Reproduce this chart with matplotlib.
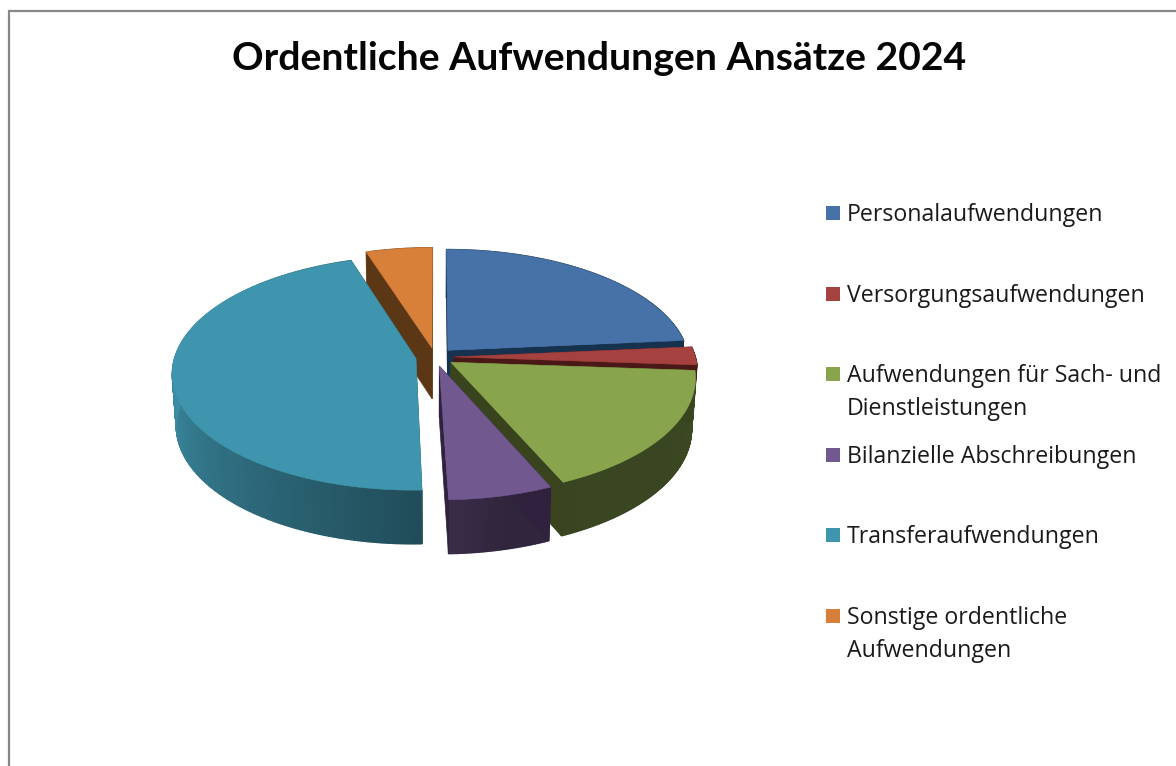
import numpy as np
import matplotlib
matplotlib.use("Agg")
import matplotlib.pyplot as plt
from matplotlib.patches import Rectangle

# ---- data ----
title = "Ordentliche Aufwendungen Ansätze 2024"
labels = ["Personalaufwendungen", "Versorgungsaufwendungen",
          "Aufwendungen für Sach- und\nDienstleistungen",
          "Bilanzielle Abschreibungen", "Transferaufwendungen",
          "Sonstige ordentliche\nAufwendungen"]
shares = [23.6, 2.5, 17.3, 6.1, 45.5, 5.0]
colors = ["#4672A8", "#A54240", "#88A44D", "#71588F", "#4095AE", "#D8803A"]
cut_colors = ["#16324F", "#4A1816", "#39431E", "#30213E", "#225261", "#5C3716"]
rim_angles = [0, 90, 120, 166, 180, 270, 300, 360]
rim_shades = [.6, .46, .43, .42, .52, .95, .95, .6]
draw_order = [0, 5, 1, 2, 4, 3]
legend_rows = [213, 294, 374, 455, 535, 616]

# ---- layout ----
W, H = 1176, 766
CX, CY = 435, 357
A, B, K = 241, 114.8, 0.124
EXPLODE = 0.08
DEPTH, KD = 51.0, 0.05
BOTTOM_X = 0.985


def proj(u, v, bottom=False):
    """Ground-plane coordinates of the pie to pixel coordinates."""
    u, v = np.asarray(u, float), np.asarray(v, float)
    s = 1 + K * v
    x = CX + A * u / s
    y = CY - B * v / s
    if bottom:
        x = CX + (x - CX) * BOTTOM_X
        y = y + DEPTH / (1 + KD * v)
    return x, y


fig = plt.figure(figsize=(W / 100, H / 100), dpi=100)
ax = fig.add_axes([0, 0, 1, 1])
ax.set_xlim(0, W)
ax.set_ylim(H, 0)
ax.axis("off")

edges = np.concatenate([[0], np.cumsum(shares)]) / np.sum(shares) * 360


def shade(hex_color, f):
    return tuple(np.clip(np.array(matplotlib.colors.to_rgb(hex_color)) * f, 0, 1))


for i in draw_order:
    t0, t1 = edges[i], edges[i + 1]
    mid = np.radians((t0 + t1) / 2)
    ou, ov = EXPLODE * np.sin(mid), EXPLODE * np.cos(mid)
    th = np.radians(np.linspace(t0, t1, max(int(t1 - t0) * 2, 6)))
    ru, rv = ou + np.sin(th), ov + np.cos(th)

    # outer wall with its horizontal gradient
    tx, ty = proj(ru, rv)
    bx, by = proj(ru, rv, bottom=True)
    for j in range(len(th) - 1):
        f = np.interp(np.degrees((th[j] + th[j + 1]) / 2), rim_angles, rim_shades)
        ax.fill([tx[j], tx[j + 1], bx[j + 1], bx[j]],
                [ty[j], ty[j + 1], by[j + 1], by[j]],
                color=shade(colors[i], f), lw=1.0, zorder=1)

    # radial cut faces
    for e in (0, -1):
        xs = [ou, ru[e]]
        ys = [ov, rv[e]]
        cx_, cy_ = proj(xs, ys)
        dx_, dy_ = proj(xs, ys, bottom=True)
        ax.fill(np.r_[cx_, dx_[::-1]], np.r_[cy_, dy_[::-1]],
                color=cut_colors[i], lw=0.5, zorder=1)

    # top face
    px, py = proj(np.r_[ou, ru], np.r_[ov, rv])
    ax.fill(px, py, color=colors[i], lw=0.4, zorder=1)

# chart-area border
ax.plot([8.5, 8.5, W], [H, 10.5, 10.5], color="#878787", lw=1.6, zorder=3,
        solid_joinstyle="miter")

ax.text(599, 59, title, ha="center", va="center", fontsize=28.2,
        fontweight="bold", family="Lato", color="#050505")

for lab, c, y in zip(labels, colors, legend_rows):
    ax.add_patch(Rectangle((826, y - 7), 14, 14, facecolor=c, edgecolor="none", zorder=3))
    ax.text(847, y - 10, lab, ha="left", va="top", fontsize=16.7,
            family="Open Sans", color="#1a1a1a", linespacing=1.5)

fig.savefig("out.png", dpi=100, facecolor="white")
